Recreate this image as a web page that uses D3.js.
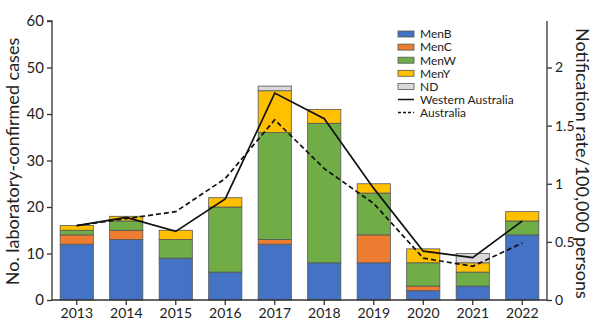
<!DOCTYPE html>
<html>
<head>
<meta charset="utf-8">
<script src="https://cdn.jsdelivr.net/npm/d3@7"></script>
<style>
	body { margin: 0; background: #fff; }
	text { font-family: Lato, "Open Sans", sans-serif; fill: #222; }
</style>
</head>
<body>
<svg id="chart1" width="600" height="325"></svg>
<script>
// data
var years = ["2013","2014","2015","2016","2017","2018","2019","2020","2021","2022"];
var serogroups = ["MenB","MenC","MenW","MenY","ND"];
var menB = [12, 13, 9, 6, 12, 8, 8, 2, 3, 14];
var menC = [2, 2, 0, 0, 1, 0, 6, 1, 0, 0];
var menW = [1, 2, 4, 14, 23, 30, 9, 5, 3, 3];
var menY = [1, 1, 2, 2, 9, 3, 2, 3, 2, 2];
var nd   = [0, 0, 0, 0, 1, 0, 0, 0, 2, 0];
var rateWA  = [0.64, 0.71, 0.59, 0.87, 1.78, 1.56, 0.96, 0.42, 0.365, 0.68];
var rateAus = [0.64, 0.70, 0.76, 1.045, 1.55, 1.13, 0.83, 0.36, 0.29, 0.49];
var leftTicks = [0, 10, 20, 30, 40, 50, 60];
var rightTicks = [0, 0.5, 1, 1.5, 2];

var colors = { MenB: "#4472C4", MenC: "#ED7D31", MenW: "#70AD47", MenY: "#FFC000", ND: "#D9D9D9" };

var svg = d3.select('#chart1');
var mLeft = 52, mRight = 547, mTop = 21, mBottom = 300;

var table = years.map(function (y, i) {
	return { year: y, MenB: menB[i], MenC: menC[i], MenW: menW[i], MenY: menY[i], ND: nd[i] };
});

var x = d3.scaleBand().domain(years).range([mLeft, mRight]).paddingInner(0.33).paddingOuter(0.165);
var y = d3.scaleLinear().domain([0, 60]).range([mBottom, mTop]);
var y2 = d3.scaleLinear().domain([0, 2.4]).range([mBottom, mTop]);

var stack = d3.stack().keys(serogroups)(table);

svg.append("g").selectAll("g")
	.data(stack)
	.enter().append("g")
	.style("fill", function (d) { return colors[d.key]; })
	.selectAll("rect")
	.data(function (d) { return d.filter(function (s) { return s[1] > s[0]; }); })
	.enter().append("rect")
	.attr("x", function (d) { return x(d.data.year); })
	.attr("width", x.bandwidth())
	.attr("y", function (d) { return y(d[1]); })
	.attr("height", function (d) { return y(d[0]) - y(d[1]); })
	.style("stroke", "#555")
	.style("stroke-width", 0.8);

// rate lines
var line = function (vals) {
	return d3.line()
		.x(function (d, i) { return x(years[i]) + x.bandwidth() / 2; })
		.y(function (d) { return y2(d); })(vals);
};
svg.append("path").attr("d", line(rateWA))
	.style("fill", "none").style("stroke", "#111").style("stroke-width", 1.7);
svg.append("path").attr("d", line(rateAus))
	.style("fill", "none").style("stroke", "#111").style("stroke-width", 1.7)
	.style("stroke-dasharray", "5,3");

// axes
var axL = svg.append("g").attr("transform", "translate(" + mLeft + ",0)")
	.call(d3.axisLeft(y).tickValues(leftTicks).tickSize(5).tickPadding(3));
var axR = svg.append("g").attr("transform", "translate(" + mRight + ",0)")
	.call(d3.axisRight(y2).tickValues(rightTicks).tickFormat(d3.format("")).tickSize(5).tickPadding(3));
var axB = svg.append("g").attr("transform", "translate(0," + mBottom + ")")
	.call(d3.axisBottom(x).tickSize(5).tickPadding(3));

[axL, axR, axB].forEach(function (a) {
	a.selectAll("path, line").style("stroke", "#333").style("stroke-width", 1.3);
	a.selectAll("text").style("font-family", "Lato, sans-serif").style("font-size", "15px").style("fill", "#222");
});
axB.selectAll("text").style("font-size", "14px");
axR.selectAll("text").style("font-size", "14px");
axB.select(".domain").attr("d", "M" + mLeft + ",0H" + mRight);
axL.select(".domain").attr("d", "M-5," + mTop + "H0V" + mBottom);
axR.select(".domain").attr("d", "M0," + mTop + "V" + mBottom);

// axis titles
svg.append("text")
	.attr("transform", "translate(19," + ((mTop + mBottom) / 2 + 1) + ") rotate(-90)")
	.attr("text-anchor", "middle")
	.style("font-size", "18px")
	.text("No. laboratory-confirmed cases");
svg.append("text")
	.attr("transform", "translate(576," + ((mTop + mBottom) / 2 + 3) + ") rotate(90)")
	.attr("text-anchor", "middle")
	.style("font-size", "18px")
	.text("Notification rate/100,000 persons");

// legend
var lg = svg.append("g").attr("transform", "translate(398,34)");
serogroups.forEach(function (k, i) {
	lg.append("rect").attr("x", 0).attr("y", i * 13.1 - 3).attr("width", 16).attr("height", 6)
		.style("fill", colors[k]).style("stroke", "#555").style("stroke-width", 0.8);
	lg.append("text").attr("x", 22).attr("y", i * 13.1 + 4.3).style("font-size", "12px").text(k);
});
var lineKeys = [["Western Australia", null], ["Australia", "3,2"]];
lineKeys.forEach(function (k, j) {
	var yy = (serogroups.length + j) * 13.1;
	lg.append("line").attr("x1", 0).attr("x2", 16).attr("y1", yy).attr("y2", yy)
		.style("stroke", "#111").style("stroke-width", 1.5)
		.style("stroke-dasharray", k[1]);
	lg.append("text").attr("x", 22).attr("y", yy + 4.3).style("font-size", "12px").text(k[0]);
});
</script>
</body>
</html>
